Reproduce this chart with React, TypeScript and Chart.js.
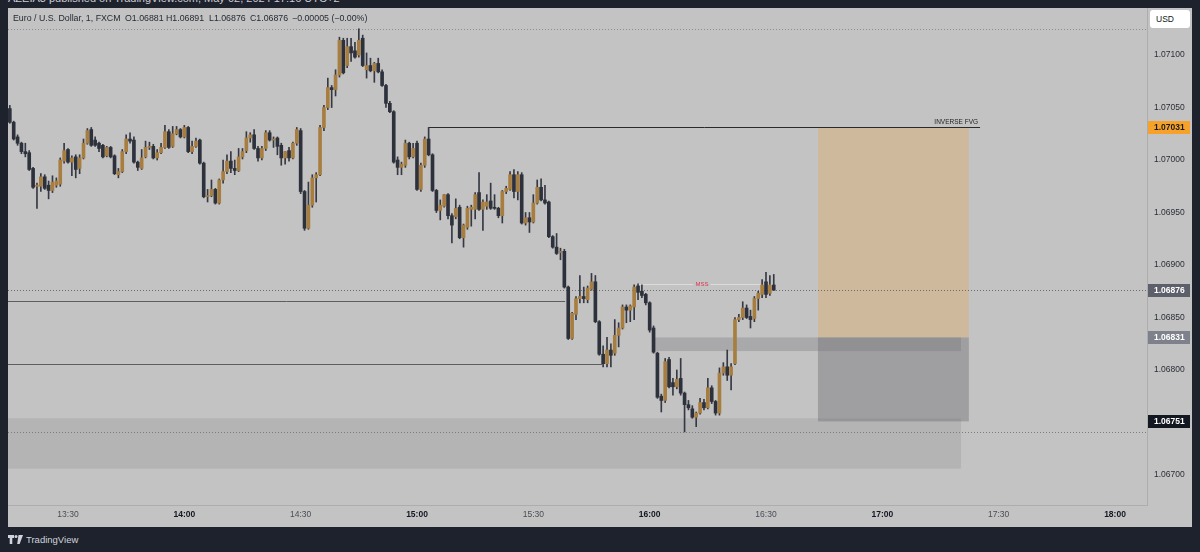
import React, { useEffect, useRef } from "react";
import { Chart, registerables } from "chart.js";

Chart.register(...registerables);

const FONT = '"Liberation Sans", Arial, sans-serif';

// EURUSD 1-minute candles, first candle at 13:15 (minutes after 13:00)
const firstMinute = 15;

const opens = [
  1.07049, 1.07036, 1.07022, 1.07016, 1.07008, 1.07007, 1.06992, 1.06975, 1.06975, 1.06984,
  1.06976, 1.06971, 1.06976, 1.06977, 1.06999, 1.0701, 1.06998, 1.07003, 1.06992, 1.07002,
  1.07016, 1.07029, 1.07019, 1.07016, 1.07014, 1.07004, 1.07012, 1.07004, 1.06986, 1.06989,
  1.07008, 1.0702, 1.07019, 1.06998, 1.06992, 1.07003, 1.07012, 1.07013, 1.07002, 1.07007,
  1.07012, 1.07027, 1.07013, 1.07025, 1.07029, 1.07022, 1.07031, 1.07008, 1.07013, 1.07019,
  1.06997, 1.06965, 1.06966, 1.06972, 1.06959, 1.06981, 1.06989, 1.06999, 1.06992, 1.0699,
  1.07003, 1.07009, 1.07021, 1.07024, 1.07011, 1.07002, 1.07011, 1.07026, 1.07019, 1.07021,
  1.07014, 1.07002, 1.07009, 1.07002, 1.07016, 1.07028, 1.0697, 1.06935, 1.06957, 1.06983,
  1.06986, 1.07031, 1.0705, 1.07069, 1.07067, 1.07081, 1.07114, 1.0709, 1.07108, 1.07104,
  1.071, 1.07116, 1.07086, 1.0709, 1.07085, 1.07092, 1.07084, 1.07071, 1.07054, 1.07046,
  1.07, 1.06993, 1.06995, 1.07016, 1.07003, 1.07016, 1.06972, 1.06995, 1.0702, 1.07005,
  1.06971, 1.06952, 1.06956, 1.06967, 1.06947, 1.06946, 1.06955, 1.06926, 1.06936, 1.06953,
  1.06953, 1.06969, 1.06953, 1.06956, 1.06961, 1.06955, 1.06954, 1.06947, 1.0697, 1.06972,
  1.06986, 1.0697, 1.06986, 1.0694, 1.06945, 1.06941, 1.06959, 1.06974, 1.06962, 1.0696,
  1.06927, 1.06917, 1.06912, 1.06913, 1.06879, 1.0683, 1.06853, 1.06868, 1.0687, 1.06867,
  1.06877, 1.06884, 1.06846, 1.06815, 1.06806, 1.06819, 1.06816, 1.06833, 1.0684, 1.0686,
  1.06857, 1.0686, 1.0688, 1.06875, 1.06872, 1.06864, 1.0684, 1.06816, 1.06775, 1.06771,
  1.0681, 1.06788, 1.06784, 1.06792, 1.06778, 1.06767, 1.06763, 1.06755, 1.06759, 1.06769,
  1.06764, 1.06783, 1.0677, 1.06759, 1.06797, 1.06803, 1.06795, 1.06806, 1.06848, 1.0685,
  1.06859, 1.06851, 1.06849, 1.06868, 1.06872, 1.06884, 1.06873, 1.06881,
];

const highs = [
  1.07052, 1.07037, 1.07024, 1.07017, 1.07016, 1.07009, 1.06993, 1.06978, 1.06987, 1.06986,
  1.0698, 1.06985, 1.06983, 1.07002, 1.07016, 1.07011, 1.07004, 1.07005, 1.07005, 1.0702,
  1.0703, 1.07031, 1.07022, 1.07017, 1.07015, 1.07013, 1.07013, 1.07005, 1.06992, 1.0701,
  1.07024, 1.07026, 1.07022, 1.06999, 1.0701, 1.07018, 1.07017, 1.07015, 1.0701, 1.07016,
  1.07033, 1.07029, 1.07032, 1.07032, 1.0703, 1.07033, 1.07032, 1.07018, 1.07021, 1.0702,
  1.06998, 1.06972, 1.06981, 1.06973, 1.06982, 1.07, 1.07005, 1.07008, 1.07, 1.07011,
  1.07011, 1.07027, 1.07026, 1.07029, 1.07013, 1.07013, 1.07028, 1.07028, 1.07022, 1.07022,
  1.07016, 1.07008, 1.07012, 1.07017, 1.07031, 1.0703, 1.06971, 1.06979, 1.06986, 1.06988,
  1.07033, 1.07052, 1.07078, 1.07071, 1.07086, 1.07117, 1.07116, 1.07116, 1.07116, 1.07112,
  1.07125, 1.07119, 1.07102, 1.07097, 1.07093, 1.07097, 1.07086, 1.07072, 1.07056, 1.07047,
  1.07003, 1.06998, 1.07019, 1.07017, 1.07016, 1.07018, 1.06997, 1.07022, 1.07031, 1.07006,
  1.06972, 1.06962, 1.06967, 1.06968, 1.06949, 1.06963, 1.06957, 1.06939, 1.06956, 1.06957,
  1.06969, 1.06988, 1.06962, 1.06967, 1.06978, 1.06967, 1.06955, 1.06971, 1.06975, 1.06989,
  1.06991, 1.06989, 1.06988, 1.0695, 1.0695, 1.06967, 1.06981, 1.06982, 1.06976, 1.06961,
  1.06928, 1.0693, 1.06916, 1.06915, 1.0688, 1.06855, 1.0687, 1.0689, 1.06879, 1.0688,
  1.06892, 1.0689, 1.06847, 1.06823, 1.06831, 1.06825, 1.06848, 1.06845, 1.06862, 1.06862,
  1.06862, 1.06881, 1.06882, 1.06881, 1.06873, 1.06865, 1.06842, 1.06817, 1.06777, 1.06811,
  1.06812, 1.06792, 1.068, 1.06811, 1.06779, 1.06771, 1.06766, 1.0676, 1.06773, 1.06772,
  1.06792, 1.06785, 1.06771, 1.06802, 1.06807, 1.06819, 1.06806, 1.0685, 1.06853, 1.06865,
  1.06862, 1.06857, 1.0687, 1.06875, 1.06886, 1.06893, 1.0689, 1.06891,
];

const lows = [
  1.07035, 1.07019, 1.07014, 1.07006, 1.07003, 1.0699, 1.06973, 1.06954, 1.0697, 1.06972,
  1.06963, 1.06969, 1.06974, 1.06975, 1.06997, 1.06997, 1.06985, 1.06983, 1.06987, 1.07001,
  1.07015, 1.07013, 1.07013, 1.07008, 1.07002, 1.07003, 1.07002, 1.06986, 1.06983, 1.06988,
  1.07006, 1.07016, 1.06997, 1.0699, 1.06991, 1.07002, 1.0701, 1.07001, 1.07, 1.07006,
  1.07011, 1.07011, 1.07012, 1.07024, 1.07021, 1.07021, 1.07007, 1.07006, 1.07012, 1.06996,
  1.06964, 1.0696, 1.06965, 1.06958, 1.06958, 1.06978, 1.06987, 1.06988, 1.06986, 1.06989,
  1.07001, 1.07007, 1.07017, 1.0701, 1.06999, 1.07, 1.07009, 1.07018, 1.07012, 1.07005,
  1.06995, 1.06996, 1.06999, 1.07001, 1.07014, 1.06968, 1.06933, 1.06934, 1.06955, 1.0696,
  1.06985, 1.07028, 1.07048, 1.0705, 1.07061, 1.07079, 1.07082, 1.07088, 1.07094, 1.07097,
  1.07098, 1.07089, 1.07078, 1.07084, 1.07074, 1.07083, 1.0707, 1.0705, 1.07045, 1.06997,
  1.06986, 1.06986, 1.06993, 1.07001, 1.07002, 1.06971, 1.0697, 1.06993, 1.07004, 1.0697,
  1.0695, 1.06943, 1.06955, 1.06944, 1.06921, 1.06944, 1.06925, 1.06917, 1.06934, 1.06937,
  1.06944, 1.06952, 1.06933, 1.06953, 1.06953, 1.06953, 1.06945, 1.0694, 1.06968, 1.06971,
  1.06964, 1.06962, 1.06939, 1.06938, 1.06931, 1.0694, 1.06958, 1.06961, 1.06958, 1.06926,
  1.06916, 1.0691, 1.06905, 1.06878, 1.06829, 1.06829, 1.06848, 1.06864, 1.06864, 1.06864,
  1.06876, 1.06845, 1.06814, 1.06803, 1.06803, 1.06803, 1.06814, 1.06822, 1.06839, 1.06845,
  1.06846, 1.06848, 1.06867, 1.06869, 1.06862, 1.06836, 1.06816, 1.06773, 1.0676, 1.06769,
  1.06783, 1.06776, 1.06782, 1.06776, 1.06741, 1.06762, 1.06754, 1.06746, 1.06758, 1.06762,
  1.06763, 1.06768, 1.06757, 1.06757, 1.06795, 1.0679, 1.06781, 1.06805, 1.06846, 1.06848,
  1.06849, 1.0684, 1.06846, 1.06857, 1.06869, 1.06869, 1.06871, 1.06876,
];

const closes = [
  1.07036, 1.0702, 1.07016, 1.07008, 1.07006, 1.06991, 1.06974, 1.06976, 1.06984, 1.06973,
  1.06971, 1.06979, 1.0698, 1.07, 1.07009, 1.06998, 1.07002, 1.06991, 1.07002, 1.07016,
  1.07028, 1.07014, 1.07014, 1.07011, 1.07003, 1.07012, 1.07003, 1.06987, 1.06989, 1.07008,
  1.0702, 1.07018, 1.06998, 1.06993, 1.07002, 1.07012, 1.07013, 1.07002, 1.07007, 1.07012,
  1.07027, 1.07012, 1.07025, 1.07029, 1.07022, 1.07031, 1.07008, 1.07013, 1.07018, 1.06997,
  1.06965, 1.06966, 1.06972, 1.06959, 1.06981, 1.06989, 1.06999, 1.06992, 1.0699, 1.07003,
  1.07008, 1.07021, 1.07024, 1.07011, 1.07002, 1.07011, 1.07026, 1.07019, 1.0702, 1.07013,
  1.07002, 1.07008, 1.07002, 1.07016, 1.07029, 1.0697, 1.06935, 1.06957, 1.06983, 1.06986,
  1.07031, 1.0705, 1.07069, 1.07067, 1.07081, 1.07114, 1.07083, 1.07108, 1.07102, 1.07098,
  1.07114, 1.0709, 1.0709, 1.07085, 1.07092, 1.07084, 1.07071, 1.07054, 1.07046, 1.06998,
  1.06993, 1.06996, 1.07016, 1.07003, 1.07011, 1.06972, 1.06995, 1.0702, 1.07005, 1.06971,
  1.06952, 1.06957, 1.06967, 1.06947, 1.06938, 1.06954, 1.06926, 1.06938, 1.06954, 1.06955,
  1.06967, 1.06953, 1.0696, 1.0696, 1.06954, 1.06954, 1.06947, 1.0697, 1.06973, 1.06986,
  1.0697, 1.06986, 1.0694, 1.06945, 1.06941, 1.06959, 1.06974, 1.06962, 1.06959, 1.06927,
  1.06917, 1.06911, 1.06913, 1.06879, 1.0683, 1.06854, 1.06868, 1.0687, 1.06868, 1.06878,
  1.06884, 1.06846, 1.06815, 1.06806, 1.06819, 1.06814, 1.06833, 1.0684, 1.0686, 1.06857,
  1.06861, 1.06879, 1.06874, 1.06871, 1.06864, 1.06838, 1.06817, 1.06774, 1.06771, 1.06808,
  1.06784, 1.06784, 1.06791, 1.06778, 1.06767, 1.06764, 1.06755, 1.06759, 1.06769, 1.06764,
  1.06783, 1.0677, 1.06759, 1.06797, 1.06803, 1.06795, 1.06803, 1.06848, 1.0685, 1.06859,
  1.0685, 1.06848, 1.06868, 1.06873, 1.06881, 1.06872, 1.06881, 1.06876,
];

// axes
const priceTicks = [1.071, 1.0705, 1.07, 1.0695, 1.069, 1.0685, 1.068, 1.067];
const timeTicks = [30, 60, 90, 120, 150, 180, 210, 240, 270, 300];
const timeLabels = ["13:30", "14:00", "14:30", "15:00", "15:30", "16:00", "16:30", "17:00", "17:30", "18:00"];
const timeRange = [14.53, 308.25];
const priceRange = [1.066714, 1.071448];

// drawings
const fvgLevel = 1.07031;
const fvgStart = 123;
const fvgEnd = 265.2;
const mssLevel = 1.06882;
const mssStart = 176.7;
const mssEnd = 211.8;
const sweptLevels = [1.06866, 1.06806];
const sweptEnds = [158.2, 167.7];
const zoneTops = [1.06831, 1.06754];
const zoneBottoms = [1.06818, 1.06706];
const zoneStarts = [180.6, null];
const zoneEnds = [260.3, 260.3];
const entryPrice = 1.06831;
const targetPrice = 1.07031;
const stopPrice = 1.06751;
const positionStart = 223.4;
const positionEnd = 262.3;

const BULL = "#a87d40";
const BEAR = "#2d313c";
const WICK = "#363943";
const PANEL = "#c3c3c3";

const overlayPlugin = {
  id: "tvOverlays",
  beforeDatasetsDraw(chart: any) {
    const { ctx, chartArea: a, scales } = chart;
    const xs = scales.x;
    const ys = scales.y;
    const X = (v: number) => xs.getPixelForValue(v);
    const Y = (v: number) => ys.getPixelForValue(v);
    ctx.save();
    ctx.beginPath();
    ctx.rect(a.left, a.top, a.right - a.left, a.bottom - a.top);
    ctx.clip();

    const box = (t0: number, t1: number, p0: number, p1: number, color: string) => {
      const x0 = X(t0), x1 = X(t1), y0 = Y(p0), y1 = Y(p1);
      ctx.fillStyle = color;
      ctx.fillRect(Math.min(x0, x1), Math.min(y0, y1), Math.abs(x1 - x0), Math.abs(y1 - y0));
    };
    const zoneColors = ["rgba(110,110,115,0.30)", "rgba(120,120,120,0.20)"];
    zoneTops.forEach((top, k) => {
      const s = zoneStarts[k] == null ? xs.min : (zoneStarts[k] as number);
      box(s, zoneEnds[k], top, zoneBottoms[k], zoneColors[k]);
    });
    box(positionStart, positionEnd, entryPrice, targetPrice, "rgba(222,170,100,0.40)");
    box(positionStart, positionEnd, entryPrice, stopPrice, "rgba(110,110,115,0.42)");

    const hline = (t0: number, t1: number, p: number, color: string, width: number, dash: number[]) => {
      const yy = Math.round(Y(p)) + 0.5;
      ctx.strokeStyle = color;
      ctx.lineWidth = width;
      ctx.setLineDash(dash);
      ctx.beginPath();
      ctx.moveTo(X(t0), yy);
      ctx.lineTo(X(t1), yy);
      ctx.stroke();
    };
    const hi = Math.max(...highs);
    const lo = Math.min(...lows);
    const last = closes[closes.length - 1];
    hline(xs.min, xs.max, hi, "#8c8c8c", 1, [1, 2]);
    hline(xs.min, xs.max, lo, "#7c7c7c", 1, [1, 2]);
    hline(xs.min, xs.max, last, "#6c6c6c", 1, [1, 2]);
    sweptLevels.forEach((p, k) => hline(xs.min, sweptEnds[k], p, "#5e5e5e", 1, []));
    hline(fvgStart, fvgEnd, fvgLevel, "#2a2a2a", 1, []);

    ctx.font = `6.5px ${FONT}`;
    ctx.fillStyle = "#1f1f1f";
    ctx.textAlign = "right";
    ctx.textBaseline = "bottom";
    ctx.fillText("INVERSE FVG", X(fvgEnd) - 2, Y(fvgLevel) - 2);

    hline(mssStart, mssEnd, mssLevel, "#dcdcdc", 1.2, []);
    const mx = (X(mssStart) + X(mssEnd)) / 2 - 3;
    const my = Math.round(Y(mssLevel)) + 0.5;
    ctx.font = `6px ${FONT}`;
    const w = ctx.measureText("MSS").width;
    ctx.fillStyle = PANEL;
    ctx.fillRect(mx - w / 2 - 2, my - 3, w + 4, 6);
    ctx.fillStyle = "#e0354b";
    ctx.textAlign = "center";
    ctx.textBaseline = "middle";
    ctx.fillText("MSS", mx, my);
    ctx.restore();
  },
  afterDraw(chart: any) {
    const { ctx, chartArea: a, scales } = chart;
    const Y = (v: number) => scales.y.getPixelForValue(v);
    const tags = [
      { value: fvgLevel, bg: "#f6a22a", fg: "#1a1a1a" },
      { value: closes[closes.length - 1], bg: "#5d606b", fg: "#ffffff" },
      { value: entryPrice, bg: "#7e818b", fg: "#ffffff" },
      { value: stopPrice, bg: "#131722", fg: "#ffffff" },
    ];
    ctx.save();
    ctx.font = `bold 8.5px ${FONT}`;
    ctx.textAlign = "left";
    ctx.textBaseline = "middle";
    tags.forEach((t) => {
      const yy = Math.round(Y(t.value));
      ctx.fillStyle = t.bg;
      ctx.fillRect(a.right + 1, yy - 6, 42, 13);
      ctx.fillStyle = t.fg;
      ctx.fillText(t.value.toFixed(5), a.right + 7, yy + 0.5);
    });
    ctx.restore();
  },
};

export default function App() {
  const ref = useRef<HTMLCanvasElement>(null);

  useEffect(() => {
    if (!ref.current) return;
    const bodies = opens.map((o, i) => ({ x: firstMinute + i, y: [o, closes[i]] }));
    const wicks = highs.map((h, i) => ({ x: firstMinute + i, y: [lows[i], h] }));
    const bodyColors = opens.map((o, i) => (closes[i] >= o ? BULL : BEAR));

    const chart = new Chart(ref.current, {
      type: "bar",
      data: {
        datasets: [
          {
            data: bodies as any,
            backgroundColor: bodyColors,
            borderWidth: 0,
            barThickness: 3,
            minBarLength: 1,
            grouped: false,
            order: 1,
          } as any,
          {
            data: wicks as any,
            backgroundColor: WICK,
            borderWidth: 0,
            barThickness: 1,
            grouped: false,
            order: 2,
          } as any,
        ],
      },
      options: {
        responsive: false,
        animation: false,
        events: [],
        layout: { padding: 0 },
        plugins: { legend: { display: false }, tooltip: { enabled: false } },
        scales: {
          x: {
            type: "linear",
            min: timeRange[0],
            max: timeRange[1],
            offset: false,
            grid: { display: false, drawTicks: false },
            border: { display: true, color: "#adadad" },
            afterBuildTicks: (s: any) => {
              s.ticks = timeTicks.map((v) => ({ value: v }));
            },
            afterFit: (s: any) => {
              s.height = 22;
              s.paddingLeft = 0;
              s.paddingRight = 0;
              s.paddingTop = 0;
              s.paddingBottom = 0;
            },
            ticks: {
              autoSkip: false,
              maxRotation: 0,
              padding: 5,
              callback: (_v: any, i: number) => timeLabels[i],
              color: (c: any) => (c.tick && c.tick.value % 60 === 0 ? "#131722" : "#4a4d56"),
              font: (c: any) => ({
                family: FONT,
                size: 8.5,
                weight: c.tick && c.tick.value % 60 === 0 ? "bold" : "normal",
              }),
            },
          },
          y: {
            type: "linear",
            position: "right",
            min: priceRange[0],
            max: priceRange[1],
            grid: { display: false, drawTicks: false },
            border: { display: true, color: "#adadad" },
            afterBuildTicks: (s: any) => {
              s.ticks = priceTicks.map((v) => ({ value: v }));
            },
            afterFit: (s: any) => {
              s.width = 45;
              s.paddingTop = 0;
              s.paddingBottom = 0;
              s.paddingLeft = 0;
              s.paddingRight = 0;
            },
            ticks: {
              padding: 7,
              color: "#2b2e36",
              font: { family: FONT, size: 8.5 },
              callback: (v: any) => Number(v).toFixed(5),
            },
          },
        },
      } as any,
      plugins: [overlayPlugin],
    });
    return () => chart.destroy();
  }, []);

  const header: [number, string][] = [
    [13, "Euro / U.S. Dollar, 1, FXCM"],
    [125, "O1.06881"],
    [166, "H1.06891"],
    [209, "L1.06876"],
    [250, "C1.06876"],
    [292, "\u22120.00005 (\u22120.00%)"],
  ];

  return (
    <div
      style={{
        position: "fixed",
        left: 0,
        top: 0,
        width: 1200,
        height: 552,
        background: "#1e222d",
        overflow: "hidden",
        fontFamily: FONT,
      }}
    >
      <div
        style={{
          position: "absolute",
          left: 8,
          top: -7,
          fontSize: 11,
          lineHeight: "11px",
          color: "#c9ccd4",
          whiteSpace: "pre",
        }}
      >
        AZEIA3 published on TradingView.com, May 02, 2024 17:16 UTC+2
      </div>
      <canvas
        ref={ref}
        width={1184}
        height={519}
        style={{ position: "absolute", left: 8, top: 8, width: 1184, height: 519, background: PANEL }}
      />
      {header.map(([x, t]) => (
        <div
          key={t}
          style={{
            position: "absolute",
            left: x,
            top: 13,
            fontSize: 8.8,
            lineHeight: "10px",
            color: "#262a33",
            whiteSpace: "pre",
          }}
        >
          {t}
        </div>
      ))}
      <div
        style={{
          position: "absolute",
          left: 1150,
          top: 10,
          width: 40,
          height: 18,
          background: "#ffffff",
          borderRadius: 3,
          fontSize: 8.5,
          lineHeight: "18px",
          color: "#131722",
          paddingLeft: 6,
          boxSizing: "border-box",
        }}
      >
        USD
      </div>
      <svg style={{ position: "absolute", left: 8, top: 535 }} width="15" height="9" viewBox="0 0 15 9">
        <path d="M0 0h6v3H4.3v6H1.7V3H0z" fill="#d1d4dc" />
        <circle cx="8" cy="1.5" r="1.5" fill="#d1d4dc" />
        <path d="M10.5 0H15L11.6 9H9.2z" fill="#d1d4dc" />
      </svg>
      <div
        style={{
          position: "absolute",
          left: 26,
          top: 534,
          fontSize: 9.5,
          lineHeight: "11px",
          color: "#d1d4dc",
        }}
      >
        TradingView
      </div>
    </div>
  );
}
